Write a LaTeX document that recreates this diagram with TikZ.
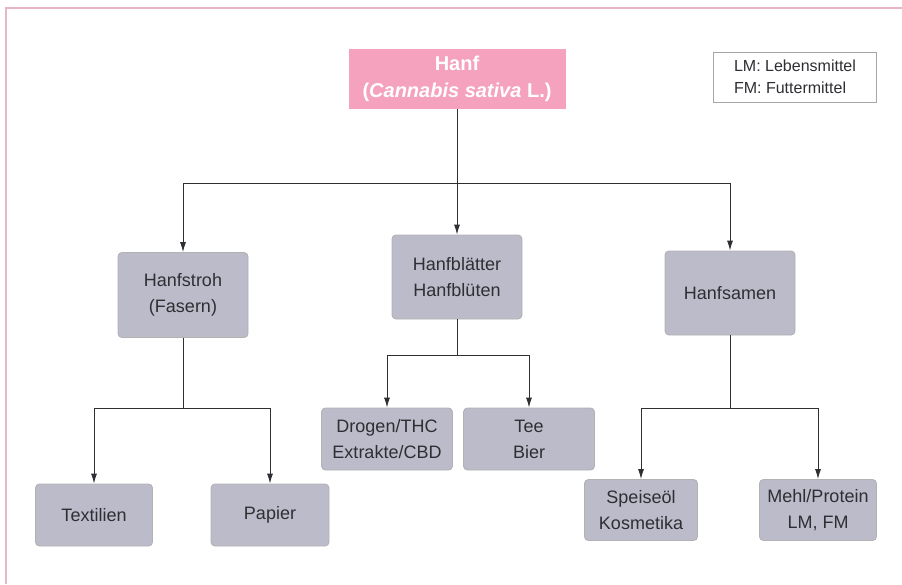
\documentclass[tikz,border=0pt]{standalone}
\usepackage{fontspec}
\setmainfont{Liberation Sans}
\usetikzlibrary{arrows.meta}
\definecolor{hanfpink}{HTML}{F4A2BE}
\definecolor{boxgray}{HTML}{BCBBCA}
\definecolor{framepink}{HTML}{E9B6C9}
\definecolor{textgray}{HTML}{2E2E33}
\tikzset{
  box/.style={fill=boxgray, draw=gray!60, rounded corners=4pt, text=textgray, align=center,
    font=\fontsize{18}{26}\selectfont, inner sep=0pt},
  big/.style={box, minimum width=130pt, minimum height=85pt},
  small/.style={box, minimum width=118pt, minimum height=62pt}
}
\begin{document}
\begin{tikzpicture}[x=1pt, y=-1pt, ->, >={Latex[length=10pt,width=6pt]}, line width=0.9pt, textgray]
  \useasboundingbox (0,0) rectangle (902,584);
  \draw[-, framepink, line width=1.5pt] (6,584) -- (6,8) -- (902,8);
  % top
  \node[fill=hanfpink, text=white, align=center, minimum width=217pt, minimum height=60pt, inner sep=0pt,
    font=\fontsize{20}{27}\selectfont\bfseries] (hanf) at (457,79) {Hanf\\(\textit{Cannabis sativa} L.)};
  \node[draw=gray!70, fill=white, align=left, minimum width=163pt, minimum height=50pt, inner sep=0pt,
    font=\fontsize{16}{22}\selectfont, text=textgray] (legende) at (795,77) {LM: Lebensmittel\\FM: Futtermittel};
  % second level
  \node[big] (stroh) at (183,295) {Hanfstroh\\(Fasern)};
  \node[big, minimum height=84pt] (blatt) at (457,277) {Hanfblätter\\Hanfblüten};
  \node[big, minimum height=84pt] (samen) at (730,293) {Hanfsamen};
  % third level
  \node[small, minimum width=117pt] (textil) at (94,515) {Textilien};
  \node[small] (papier) at (270,515) {Papier};
  \node[small, minimum width=131pt] (drogen) at (387,439) {Drogen/THC\\Extrakte/CBD};
  \node[small, minimum width=131pt] (tee) at (529,439) {Tee\\Bier};
  \node[small, minimum width=113pt, minimum height=61pt] (speise) at (641,510) {Speiseöl\\Kosmetika};
  \node[small, minimum width=117pt, minimum height=61pt] (mehl) at (818,510) {Mehl/Protein\\LM, FM};
  % junctions
  \coordinate (j1) at (457,183);
  \coordinate (j2) at (183,408);
  \coordinate (j3) at (457,355);
  \coordinate (j4) at (730,408);
  \draw[-] (hanf) -- (j1);
  \foreach \a/\b in {j1/stroh, j1/blatt, j1/samen, j2/textil, j2/papier, j3/drogen, j3/tee, j4/speise, j4/mehl}
    \draw (\a) -| (\b);
  \draw[-] (stroh) -- (j2);
  \draw[-] (blatt) -- (j3);
  \draw[-] (samen) -- (j4);
\end{tikzpicture}
\end{document}
